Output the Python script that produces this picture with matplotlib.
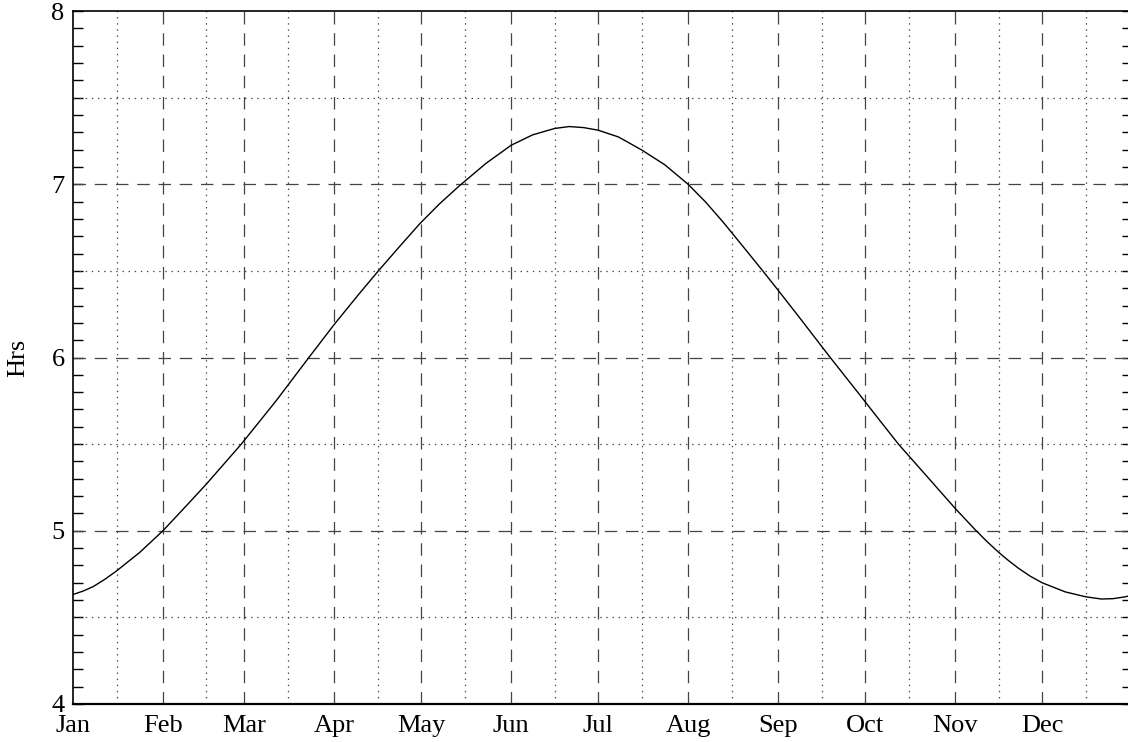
import numpy as np
import matplotlib
matplotlib.use("Agg")
import matplotlib.pyplot as plt
from matplotlib.ticker import MultipleLocator, FixedLocator

# day of year vs hours
days = [0, 3.5, 7, 11, 15, 23, 31, 39, 46, 52, 58, 70, 81.3, 90, 98, 105, 112,
        119.4, 126.2, 133.1, 142.3, 151, 158.4, 166, 171, 176, 181, 188, 196,
        204, 212, 218, 224, 230, 237.5, 243, 250, 261, 271, 278, 284.5, 296,
        304, 311, 315, 319, 322.5, 326, 330, 334, 342, 349, 354.4, 358.5,
        362.4, 365]
hrs = [4.632, 4.652, 4.678, 4.72, 4.768, 4.875, 5.0, 5.143, 5.27, 5.385, 5.5,
       5.75, 6.0, 6.19, 6.355, 6.495, 6.63, 6.77, 6.885, 6.99, 7.12, 7.225,
       7.285, 7.322, 7.333, 7.327, 7.312, 7.273, 7.198, 7.112, 7.0, 6.898,
       6.783, 6.66, 6.505, 6.389, 6.239, 6.0, 5.788, 5.638, 5.5, 5.282, 5.13,
       5.005, 4.938, 4.876, 4.827, 4.782, 4.737, 4.70, 4.647, 4.619, 4.606,
       4.608, 4.618, 4.627]

months = ['Jan', 'Feb', 'Mar', 'Apr', 'May', 'Jun',
          'Jul', 'Aug', 'Sep', 'Oct', 'Nov', 'Dec']
month_start = [0, 31, 59, 90, 120, 151, 181, 212, 243, 273, 304, 334]
mid_month = [d + 15 for d in month_start]

plt.rcParams['font.family'] = ['Liberation Serif', 'DejaVu Serif']
plt.rcParams['font.size'] = 19

fig = plt.figure(figsize=(11.28, 7.42), dpi=100)
ax = fig.add_axes([73 / 1128, 38 / 742, 1059 / 1128, 693 / 742])

ax.plot(days, hrs, color='black', lw=1.0, zorder=3)

ax.set_xlim(0, 365)
ax.set_ylim(4, 8)

# grid: dashed on major, dotted on minor
gcol = '#444444'
for d in month_start[1:]:
    ax.axvline(d, color=gcol, lw=0.9, dashes=(10, 7))
for d in mid_month:
    ax.axvline(d, color=gcol, lw=0.9, dashes=(1.1, 3.8))
for v in [5, 6, 7]:
    ax.axhline(v, color=gcol, lw=0.9, dashes=(10, 7))
for v in [4.5, 5.5, 6.5, 7.5]:
    ax.axhline(v, color=gcol, lw=0.9, dashes=(1.1, 3.8))

ax.xaxis.set_major_locator(FixedLocator(month_start))
ax.set_xticklabels(months)
ax.tick_params(axis='x', length=0, pad=8)

ax.yaxis.set_major_locator(MultipleLocator(1))
ax.yaxis.set_minor_locator(MultipleLocator(0.1))
ax.tick_params(axis='y', which='both', direction='in', length=7.5, width=1.0,
               left=True, right=True, pad=6)

for s in ax.spines.values():
    s.set_linewidth(1.2)
ax.spines['bottom'].set_linewidth(1.6)

ax.set_ylabel('Hrs', labelpad=16)

fig.savefig('out.png', dpi=100)
